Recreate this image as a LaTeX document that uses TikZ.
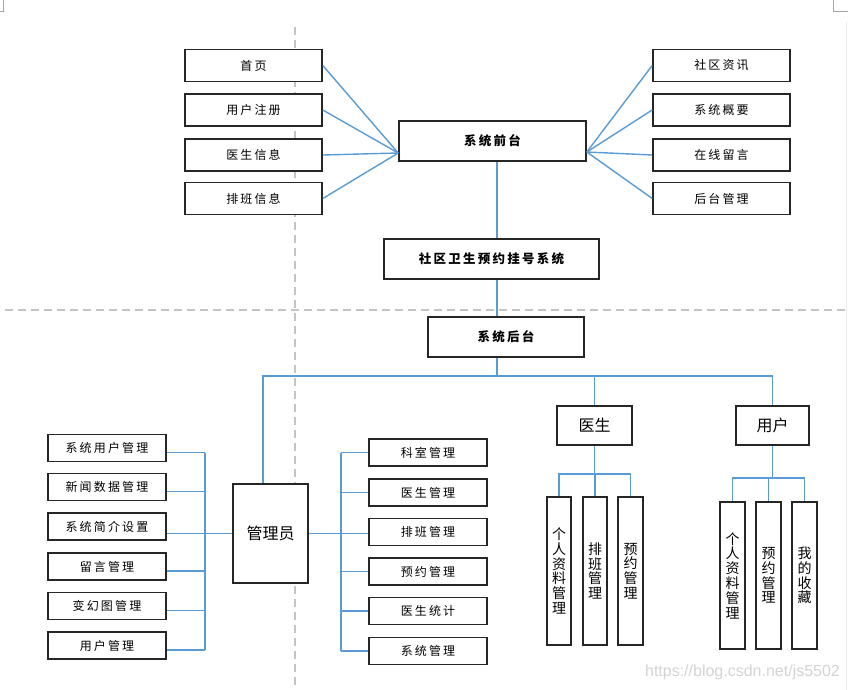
\documentclass[tikz,border=0pt]{standalone}
\usepackage{fontspec}
\setmainfont{Noto Sans CJK SC}
\newfontfamily\spf[LetterSpace=18]{Noto Sans CJK SC}
\newfontfamily\urlf{Liberation Sans}
\usetikzlibrary{calc}
\definecolor{lineblue}{HTML}{5B9BD5}
\definecolor{boxc}{HTML}{262626}
\definecolor{dashc}{HTML}{C4C4C4}
\definecolor{wmark}{HTML}{D4D4D4}
\begin{document}
\begin{tikzpicture}[x=1pt,y=-1pt,
  box/.style={draw=boxc, line width=1.6pt, fill=white, inner sep=0pt, align=center},
  topbox/.style={box, minimum width=137pt, minimum height=32pt, font=\spf\fontsize{12}{14}\selectfont},
  sbox/.style={box, minimum width=118pt, minimum height=27pt, font=\spf\fontsize{12}{14}\selectfont},
  hbox/.style={box, minimum height=40pt, font=\spf\fontsize{12.5}{14}\selectfont\bfseries},
  rolebox/.style={box, font=\fontsize{16}{18}\selectfont},
  vbox/.style={box, minimum width=24.5pt, minimum height=148pt, font=\fontsize{14}{14.8}\selectfont},
  conn/.style={draw=lineblue, line width=1.4pt},
  guide/.style={draw=dashc, line width=1.5pt, dash pattern=on 8pt off 5pt},
  pagemark/.style={draw=black!35, line width=0.7pt}
]
\useasboundingbox (0,0) rectangle (848,690);
\fill[white] (0,0) rectangle (848,690);

% page marks
\draw[pagemark] (3,0) -- (3,11) -- (0,11);
\draw[pagemark] (833,0) -- (833,11) -- (848,11);
\draw[draw=black!8, line width=1pt] (846,22) -- (846,690);

% guide lines
\draw[guide] (5,310) -- (848,310);
\draw[guide] (295,27) -- (295,690);

% front end
\node[hbox, minimum width=187pt] (front) at (492.5,141) {系统前台};
\node[topbox] (lt1) at (253.5,65.5) {首页};
\node[topbox] (lt2) at (253.5,110) {用户注册};
\node[topbox] (lt3) at (253.5,155) {医生信息};
\node[topbox] (lt4) at (253.5,198.5) {排班信息};
\node[topbox] (rt1) at (721.5,65.5) {社区资讯};
\node[topbox] (rt2) at (721.5,110) {系统概要};
\node[topbox] (rt3) at (721.5,155) {在线留言};
\node[topbox] (rt4) at (721.5,198.5) {后台管理};
\coordinate (fl) at ($(front.west)+(0,12)$);
\coordinate (fr) at ($(front.east)+(0,11)$);
\foreach \n in {lt1,lt2,lt3,lt4} \draw[conn] (\n.east) -- (fl);
\foreach \n in {rt1,rt2,rt3,rt4} \draw[conn] (\n.west) -- (fr);

% main & back
\node[hbox, minimum width=215pt] (main) at (491.5,259) {社区卫生预约挂号系统};
\node[hbox, minimum width=156pt] (back) at (506,337) {系统后台};
\coordinate (tx) at (497,0);
\draw[conn] (front.south -| tx) -- (main.north -| tx);
\draw[conn] (main.south -| tx) -- (back.north -| tx);

% roles
\node[rolebox, minimum width=75pt, minimum height=99pt] (admin) at (270.5,533.5) {管理员};
\node[rolebox, minimum width=75pt, minimum height=39pt] (doc) at (594.5,425.5) {医生};
\node[rolebox, minimum width=73pt, minimum height=39pt] (user) at (772.5,425.5) {用户};
\coordinate (busL) at (263,376);
\coordinate (busR) at (772.5,376);
\draw[conn] (back.south -| tx) -- (tx |- busL);
\draw[conn] ($(admin.north)+(-7.5,0)$) -- (busL) -- (busR) -- (user.north);
\draw[conn] (doc.north) -- (doc.north |- busL);

% admin left column
\node[sbox] (a1) at (107,448) {系统用户管理};
\node[sbox] (a2) at (107,487) {新闻数据管理};
\node[sbox] (a3) at (107,526.5) {系统简介设置};
\node[sbox] (a4) at (107,566.5) {留言管理};
\node[sbox] (a5) at (107,606) {变幻图管理};
\node[sbox] (a6) at (107,645.5) {用户管理};
\coordinate (lbx) at (205,0);
\foreach \n in {a1,a2,a4,a5,a6} \draw[conn] ($(\n.east)+(0,4.5)$) -- ($(\n.east -| lbx)+(0,4.5)$);
\draw[conn] ($(a1.east -| lbx)+(0,4.5)$) -- ($(a6.east -| lbx)+(0,4.5)$);
\draw[conn] (admin.west) -- (a3.east |- admin.west);

% admin right column
\node[sbox] (b1) at (428,452.5) {科室管理};
\node[sbox] (b2) at (428,492.5) {医生管理};
\node[sbox] (b3) at (428,532) {排班管理};
\node[sbox] (b4) at (428,571.5) {预约管理};
\node[sbox] (b5) at (428,611) {医生统计};
\node[sbox] (b6) at (428,651) {系统管理};
\coordinate (rbx) at (341,0);
\foreach \n in {b1,b2,b4,b5,b6} \draw[conn] (\n.west) -- (rbx |- \n.west);
\draw[conn] (rbx |- b1.west) -- (rbx |- b6.west);
\draw[conn] (admin.east) -- (b3.west |- admin.east);

% doctor children
\node[vbox] (d1) at (559,571) {个\\人\\资\\料\\管\\理};
\node[vbox] (d2) at (595,571) {排\\班\\管\\理};
\node[vbox] (d3) at (630.5,571) {预\\约\\管\\理};
\coordinate (dj) at (0,474);
\draw[conn] (doc.south) -- (doc.south |- dj);
\draw[conn] (d2.north) -- (d2.north |- dj);
\draw[conn] (d1.north) -- (d1.north |- dj) -- (d3.north |- dj) -- (d3.north);

% user children
\node[vbox, minimum height=147pt] (u1) at (732.5,575.5) {个\\人\\资\\料\\管\\理};
\node[vbox, minimum height=147pt] (u2) at (768.5,575.5) {预\\约\\管\\理};
\node[vbox, minimum height=147pt] (u3) at (804.5,575.5) {我\\的\\收\\藏};
\coordinate (uj) at (0,478);
\draw[conn] (user.south) -- (user.south |- uj);
\draw[conn] (u2.north) -- (u2.north |- uj);
\draw[conn] (u1.north) -- (u1.north |- uj) -- (u3.north |- uj) -- (u3.north);

% watermark
\node[text=wmark, font=\urlf\fontsize{16}{18}\selectfont, inner sep=0pt] (wm) at (742.5,672) {https://blog.csdn.net/js5502};
\end{tikzpicture}
\end{document}
